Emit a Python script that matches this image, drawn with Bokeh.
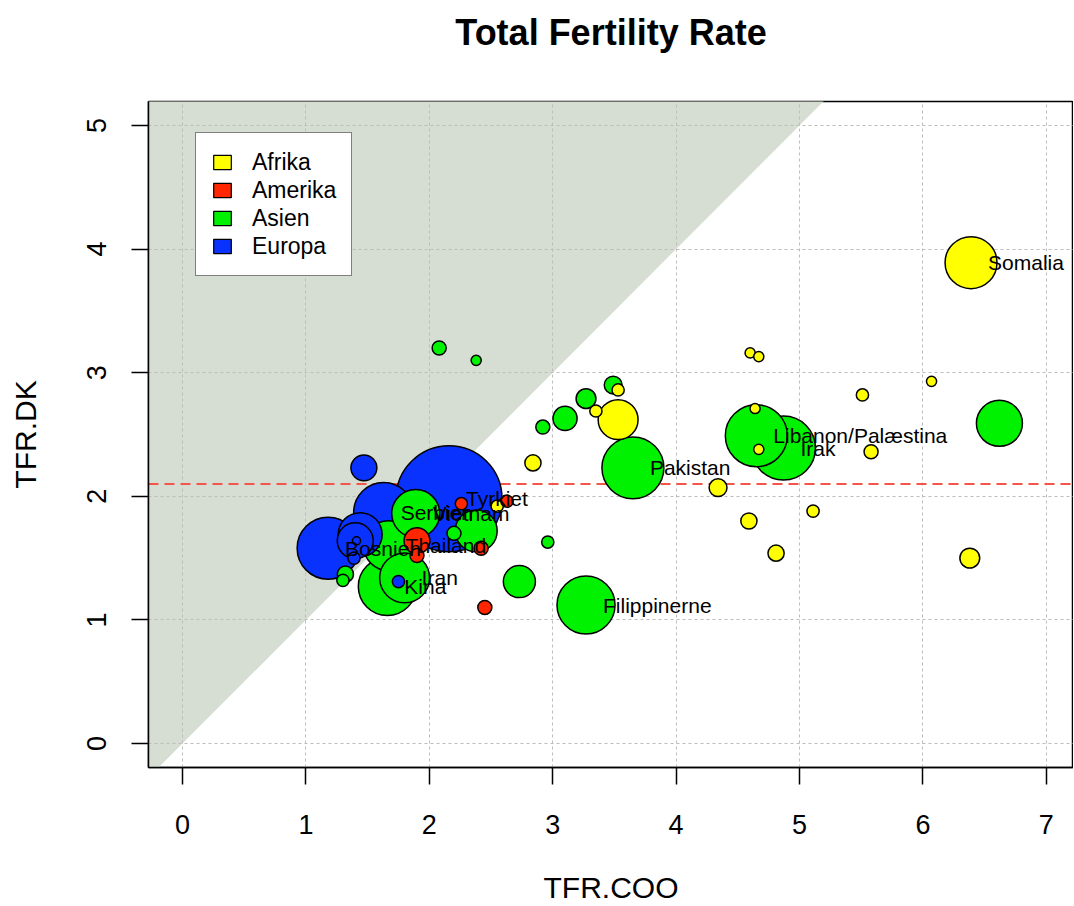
import math
from bokeh.plotting import figure
from bokeh.models import ColumnDataSource, Range1d, FixedTicker, Legend, LegendItem, Title
from bokeh.core.properties import value
from bokeh.embed import file_html
from bokeh.resources import INLINE

# ---------------- data ----------------
regions = ["Afrika", "Amerika", "Asien", "Europa"]
region_colors = ["#FFFF00", "#FF2600", "#00F200", "#0A32FF"]

afrika_coo = [6.39, 6.07, 5.51, 5.58, 6.38, 5.11, 4.81, 4.59, 4.34, 4.60, 4.67, 4.64, 4.67, 3.53, 3.53, 3.35, 2.84, 2.55]
afrika_dk = [3.89, 2.93, 2.82, 2.36, 1.50, 1.88, 1.54, 1.80, 2.07, 3.16, 3.13, 2.71, 2.38, 2.62, 2.86, 2.69, 2.27, 1.92]
afrika_n = [14.4, 0.55, 0.8, 1.05, 2.1, 0.8, 1.4, 1.4, 1.7, 0.55, 0.55, 0.55, 0.55, 8.5, 0.8, 0.8, 1.4, 0.8]
afrika_label = ["Somalia", "", "", "", "", "", "", "", "", "", "", "", "", "", "", "", "", ""]

amerika_coo = [2.26, 2.63, 1.90, 1.90, 2.42, 2.45]
amerika_dk = [1.94, 1.96, 1.64, 1.52, 1.58, 1.10]
amerika_n = [0.8, 0.8, 3.6, 1.05, 1.05, 1.05]
amerika_label = ["", "", "", "", "", ""]

asien_coo = [3.65, 4.65, 4.87, 3.27, 6.62, 2.96, 3.10, 3.27, 3.49, 2.92, 2.08, 2.38, 2.73,
             1.89, 2.38, 2.20, 1.67, 1.66, 1.80, 1.32, 1.30]
asien_dk = [2.23, 2.49, 2.39, 1.12, 2.59, 1.63, 2.63, 2.79, 2.90, 2.56, 3.20, 3.10, 1.31,
            1.86, 1.72, 1.70, 1.60, 1.27, 1.34, 1.37, 1.32]
asien_n = [20.5, 20.5, 21.9, 18.0, 11.3, 0.8, 3.1, 2.1, 1.7, 1.05, 1.05, 0.55, 5.5,
           12.3, 9.4, 1.05, 13.3, 18.0, 13.3, 1.4, 0.8]
asien_label = ["Pakistan", "Libanon/Palæstina", "Irak", "Filippinerne", "", "", "", "", "", "", "", "", "",
               "Vietnam", "", "", "Thailand", "Kina", "Iran", "", ""]

europa_coo = [2.16, 1.63, 1.18, 1.44, 1.40, 1.41, 1.39, 1.47, 1.75]
europa_dk = [1.98, 1.87, 1.58, 1.69, 1.64, 1.64, 1.50, 2.23, 1.31]
europa_n = [60.0, 19.2, 20.5, 10.3, 6.9, 0.35, 0.8, 3.6, 0.8]
europa_label = ["Tyrkiet", "Serbien", "Bosnien", "", "", "", "", "", ""]

x_ticks = [0, 1, 2, 3, 4, 5, 6, 7]
y_ticks = [0, 1, 2, 3, 4, 5]
replacement_level = 2.1
title_text = "Total Fertility Rate"

# ---------------- build ----------------
groups = [
    (afrika_coo, afrika_dk, afrika_n, afrika_label),
    (amerika_coo, amerika_dk, amerika_n, amerika_label),
    (asien_coo, asien_dk, asien_n, asien_label),
    (europa_coo, europa_dk, europa_n, europa_label),
]
rows = []
for gi, (xs, ys, ns, ls) in enumerate(groups):
    for x, y, n, l in zip(xs, ys, ns, ls):
        rows.append((x, y, n, l, region_colors[gi]))
rows.sort(key=lambda r: -r[2])

max_r = 53.0
n_max = max(r[2] for r in rows)
src = ColumnDataSource(dict(
    x=[r[0] for r in rows],
    y=[r[1] for r in rows],
    size=[2 * max_r * math.sqrt(r[2] / n_max) for r in rows],
    color=[r[4] for r in rows],
))
lab_rows = [r for r in rows if r[3]]
lab_src = ColumnDataSource(dict(
    x=[r[0] for r in lab_rows],
    y=[r[1] for r in lab_rows],
    label=[r[3] for r in lab_rows],
))

FONT = "Liberation Sans"
x0, x1 = -0.2755, 7.2204
y0, y1 = -0.1942, 5.194
FW, FH = 925, 666

p = figure(
    frame_width=FW, frame_height=FH,
    x_range=Range1d(x0, x1), y_range=Range1d(y0, y1),
    output_backend="svg", toolbar_location=None,
    min_border_left=148, min_border_right=0, min_border_top=0, min_border_bottom=131,
    background_fill_color="white", border_fill_color="white",
    title=None,
)
p.outline_line_color = "black"
p.outline_line_width = 1.5

# spacer (inner) then the real title (outer)
p.add_layout(Title(text=" ", standoff=36, text_font_size="1px"), "above")
p.add_layout(Title(text=title_text, align="center", standoff=19, text_font=FONT,
                   text_font_size="36px", text_font_style="bold", text_color="black",
                   offset=4), "above")

# shaded region above the diagonal
big = 20
p.patch([-big, big, -big], [-big, big, big], fill_color="#D6DDD3", line_color=None, level="image")

for grid, ticks in ((p.xgrid, x_ticks), (p.ygrid, y_ticks)):
    grid.ticker = FixedTicker(ticks=ticks)
    grid.grid_line_color = "#BDBDBD"
    grid.grid_line_dash = "3 3"
    grid.grid_line_width = 1

p.line([x0, x1], [replacement_level, replacement_level], line_color="#F4554B",
       line_dash="10 6", line_width=2)

p.scatter("x", "y", size="size", source=src, fill_color="color",
          line_color="black", line_width=1.5, marker="circle")

p.text("x", "y", text="label", source=lab_src, x_offset=17, text_baseline="middle",
       text_align="left", text_font=value(FONT), text_font_size="21px", text_color="black")

# axes
p.xaxis.ticker = FixedTicker(ticks=x_ticks)
p.yaxis.ticker = FixedTicker(ticks=y_ticks)
p.xaxis.axis_label = "TFR.COO"
p.yaxis.axis_label = "TFR.DK"
for ax in (p.xaxis[0], p.yaxis[0]):
    ax.axis_line_color = "black"
    ax.axis_line_width = 1.5
    ax.major_tick_line_color = "black"
    ax.major_tick_line_width = 1.5
    ax.major_tick_out = 17
    ax.major_tick_in = 0
    ax.minor_tick_line_color = None
    ax.major_label_text_font = FONT
    ax.major_label_text_font_size = "27px"
    ax.major_label_text_color = "black"
    ax.axis_label_text_font = FONT
    ax.axis_label_text_font_size = "30px"
    ax.axis_label_text_font_style = "normal"
    ax.axis_label_text_color = "black"
p.xaxis.major_label_standoff = 30
p.xaxis.axis_label_standoff = 34
p.yaxis.major_label_standoff = 25
p.yaxis.axis_label_standoff = 43
p.yaxis.major_label_orientation = "vertical"

# legend
items = []
for name, col in zip(regions, region_colors):
    r = p.rect(x=[float("nan")], y=[float("nan")], width=0.1, height=0.1,
               fill_color=col, line_color="black", line_width=1.2)
    items.append(LegendItem(label=name, renderers=[r]))
leg = Legend(items=items, location=(47, 491))
leg.label_text_font = FONT
leg.label_text_font_size = "23px"
leg.label_text_color = "black"
leg.glyph_width = 22
leg.glyph_height = 18
leg.label_height = 28
leg.label_width = 82
leg.label_standoff = 19
leg.spacing = 0
leg.padding = 15
leg.margin = 0
leg.border_line_color = "black"
leg.border_line_width = 1.5
leg.background_fill_color = "white"
leg.background_fill_alpha = 1.0
p.add_layout(leg)

open("out.html", "w").write(file_html(p, INLINE))
